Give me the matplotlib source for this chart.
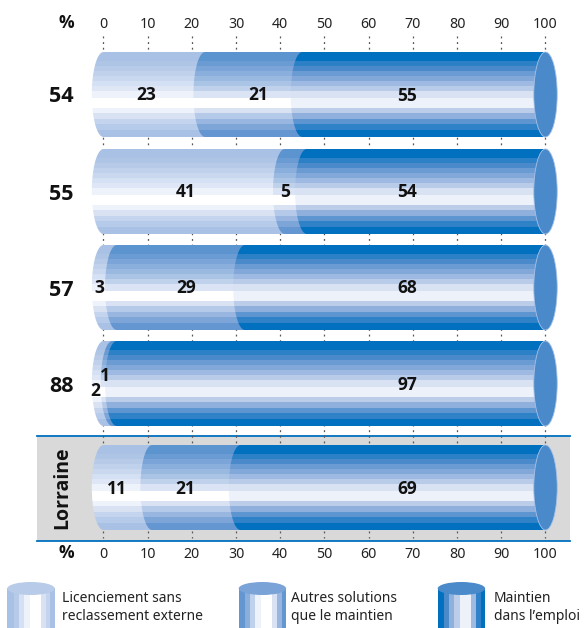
import matplotlib
matplotlib.use('Agg')
import matplotlib.pyplot as plt
from matplotlib.patches import Ellipse, Polygon, Rectangle
import numpy as np

plt.rcParams['font.family'] = ['Noto Sans', 'DejaVu Sans']
BOLD = ['Open Sans', 'DejaVu Sans']

# Values
rows = ['54', '55', '57', '88', 'Lorraine']
licenciement = [23, 41, 3, 2, 11]
autres = [21, 5, 29, 1, 21]
maintien = [55, 54, 68, 97, 69]
ticks = list(range(0, 101, 10))
legend_labels = ['Licenciement sans\nreclassement externe',
                 'Autres solutions\nque le maintien',
                 'Maintien\ndans l\u2019emploi']

# Layout, in pixels of the 584x628 picture
PX_0 = 103.5
PX_PER_UNIT = 4.42
row_tops = [52, 149, 245, 341, 445]
row_h = 85
cap_w = 2.65

# Label centres along the axis (percent) and height in the row (pixels from top)
label_x = [[9.7, 35, 68.7], [18.6, 41, 68.7], [-1, 18.7, 68.7], [-1.8, 0.4, 68.7], [3, 18.5, 68.7]]
label_y = [[43, 43, 44], [43, 43, 43], [43, 43, 43], [50, 35, 44], [44, 44, 44]]

# Stripe edges of a cylinder, pixels from its top
band_edges = [0, 9, 14, 19, 24, 29, 34, 39, 46, 56, 61, 67, 72, 78, 85]
light = ['#a9c1e5', '#afc5e6', '#b7cbe9', '#c0d1ec', '#c9d8ef', '#d4e0f3', '#dfe7f6', '#eef2fa',
         '#ffffff', '#eef2fa', '#d8e2f3', '#c5d4ee', '#b6cae9', '#a9c1e5']
mid = ['#5b94cf', '#6a9bd3', '#7ba5d8', '#8bafdc', '#9ab9e0', '#aac4e5', '#c0d1ec', '#dae4f4',
       '#ffffff', '#d8e2f3', '#b5c9e9', '#98b6e0', '#7ea5d8', '#6496d2']
dark = ['#0070bf', '#2b80c6', '#4a8aca', '#6a9bd3', '#82a8da', '#9fbae2', '#b8cbe9', '#d8e2f3',
        '#edf1fa', '#bccdea', '#8fafdd', '#5d95d0', '#2f82c7', '#0070bf']
palettes = [light, mid, dark]
cap_colors = ['#b8cbe9', '#7aa3d8', '#4a8aca']


def to_x(px):
    return (px - PX_0) / PX_PER_UNIT


# Cylinder part from start up to 100, its left side being half an ellipse
def draw_part(ax, start, top, colors):
    t = np.linspace(np.pi / 2, 3 * np.pi / 2, 60)
    xs = start + cap_w * np.cos(t)
    ys = top + row_h / 2 + row_h / 2 * np.sin(t)
    pts = list(zip(xs, ys)) + [(100, top), (100, top + row_h)]
    clip = Polygon(pts, closed=True, transform=ax.transData, facecolor='none', edgecolor='none')
    ax.add_patch(clip)
    for i, c in enumerate(colors):
        y0 = top + band_edges[i]
        y1 = top + band_edges[i + 1]
        r = Rectangle((start - cap_w - 1, y0), 100 - start + cap_w + 1, y1 - y0 + 0.3,
                      facecolor=c, edgecolor='none', zorder=3)
        ax.add_patch(r)
        r.set_clip_path(clip)


def draw_legend_cyl(ax, left_px, colors, cap):
    widths = [6.7, 4.7, 5.3, 5.7, 11, 5, 4.7, 4.3]
    x = left_px
    for w, c in zip(widths, colors):
        ax.add_patch(Rectangle((to_x(x), 588), w / PX_PER_UNIT, 45, facecolor=c, edgecolor='none', zorder=3))
        x += w
    ax.add_patch(Ellipse((to_x(left_px + 23.7), 588.5), 47.4 / PX_PER_UNIT, 13,
                         facecolor=cap, edgecolor='none', zorder=4))


def main():
    fig = plt.figure(figsize=(5.84, 6.28), dpi=100)
    ax = fig.add_axes([0, 0, 1, 1])
    ax.set_xlim(to_x(0), to_x(584))
    ax.set_ylim(628, 0)
    ax.axis('off')

    # Lorraine band
    ax.add_patch(Rectangle((to_x(37), 436), (570 - 37) / PX_PER_UNIT, 105,
                           facecolor='#d9d9d9', edgecolor='none', zorder=0))
    ax.plot([to_x(37), to_x(570)], [436, 436], color='#0070bf', lw=1.3, zorder=1)
    ax.plot([to_x(37), to_x(570)], [540.5, 540.5], color='#0070bf', lw=1.3, zorder=1)

    # Dotted guides and both scales
    for t in ticks:
        ax.plot([t, t], [36, 538], color='#555555', lw=0.9, ls=(0, (1.5, 3)), zorder=2)
        ax.text(t, 25, str(t), ha='center', va='center', fontsize=10.2, color='#222222')
        ax.text(t, 554, str(t), ha='center', va='center', fontsize=10.2, color='#222222')
    ax.text(to_x(66), 23, '%', ha='center', va='center', fontsize=12.5, family=BOLD, fontweight='bold', color='#111111')
    ax.text(to_x(66), 553, '%', ha='center', va='center', fontsize=12.5, family=BOLD, fontweight='bold', color='#111111')

    for i, name in enumerate(rows):
        top = row_tops[i]
        starts = [0, licenciement[i], 100 - maintien[i]]
        values = [licenciement[i], autres[i], maintien[i]]
        for s, colors in zip(starts, palettes):
            draw_part(ax, s, top, colors)
        ax.add_patch(Ellipse((100, top + row_h / 2), 2 * cap_w, row_h, facecolor='#4a8aca',
                             edgecolor='#a9c1e5', lw=0.6, zorder=4))
        for v, lx, ly in zip(values, label_x[i], label_y[i]):
            ax.text(lx, top + ly, str(v), ha='center', va='center', fontsize=12.5, family=BOLD,
                    fontweight='bold', color='#111111', zorder=5)
        if name == 'Lorraine':
            ax.text(to_x(62), top + 43, name, ha='center', va='center', rotation=90,
                    fontsize=14, family=BOLD, fontweight='bold', color='#111111', zorder=5)
        else:
            ax.text(to_x(61), top + 45, name, ha='center', va='center', fontsize=15.5, family=BOLD,
                    fontweight='bold', color='#111111', zorder=5)

    # Legend
    leg_lefts = [7.3, 238.7, 437.7]
    leg_text = [62.5, 291.5, 494]
    leg_colors = [
        ['#a9c1e5', '#b7cbe9', '#d4e0f3', '#eef2fa', '#ffffff', '#d8e2f3', '#c5d4ee', '#a9c1e5'],
        ['#6496d2', '#8bafdc', '#c0d1ec', '#eef2fa', '#ffffff', '#d8e2f3', '#98b6e0', '#6496d2'],
        ['#0070bf', '#4a8aca', '#8fafdd', '#bccdea', '#edf1fa', '#9fbae2', '#2f82c7', '#0070bf'],
    ]
    for lab, lx, tx, c, cap in zip(legend_labels, leg_lefts, leg_text, leg_colors, cap_colors):
        draw_legend_cyl(ax, lx, c, cap)
        first, second = lab.split('\n')
        ax.text(to_x(tx), 598, first, ha='left', va='center', fontsize=10, color='#222222')
        ax.text(to_x(tx), 617, second, ha='left', va='center', fontsize=10, color='#222222')

    fig.savefig('out.png', dpi=100)


if __name__ == '__main__':
    main()
